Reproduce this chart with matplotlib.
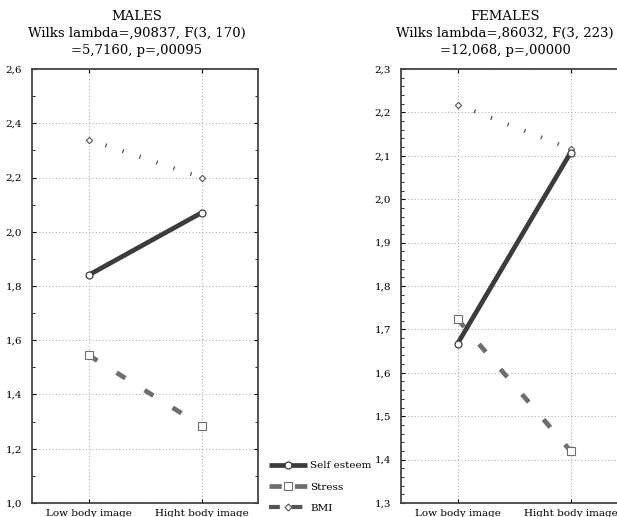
import matplotlib
matplotlib.use('Agg')
from matplotlib import pyplot as plt
from matplotlib.lines import Line2D
from matplotlib.ticker import FuncFormatter, MultipleLocator

plt.rcParams['font.family'] = 'DejaVu Serif'

# data
groups = ['Low body image', 'Hight body image']
series = ['Self esteem', 'Stress', 'BMI']

males_self = [1.84, 2.07]
males_stress = [1.545, 1.285]
males_bmi = [2.34, 2.20]

females_self = [1.667, 2.107]
females_stress = [1.724, 1.42]
females_bmi = [2.218, 2.116]

males_title = 'MALES\nWilks lambda=,90837, F(3, 170)\n=5,7160, p=,00095'
females_title = 'FEMALES\nWilks lambda=,86032, F(3, 223)\n=12,068, p=,00000'

fig = plt.figure(figsize=(6.17, 5.17), dpi=100)

comma = FuncFormatter(lambda v, p: ('%.1f' % v).replace('.', ','))

self_style = dict(color='#3c3c3c', lw=3.4, solid_capstyle='butt', marker='o', ms=5,
                  mfc='white', mec='#3c3c3c', mew=0.9)
stress_style = dict(color='#6e6e6e', lw=3.4, dashes=(2.2, 4.8), marker='s', ms=5.5,
                    mfc='white', mec='#6e6e6e', mew=0.8)
bmi_style = dict(color='#555555', lw=3.0, dashes=(0.3, 4.0), marker='D', ms=3.2,
                 mfc='white', mec='#555555', mew=0.8)


def panel(ax, self_vals, stress_vals, bmi_vals, ylim, major, minor):
    x = range(len(groups))
    ax.plot(x, self_vals, zorder=4, **self_style)
    ax.plot(x, stress_vals, zorder=3, **stress_style)
    ax.plot(x, bmi_vals, zorder=3, **bmi_style)
    ax.set_xlim(-0.5, 1.5)
    ax.set_ylim(*ylim)
    ax.set_xticks(list(x))
    ax.set_xticklabels(groups, fontsize=7.5)
    ax.yaxis.set_major_locator(MultipleLocator(major))
    ax.yaxis.set_minor_locator(MultipleLocator(minor))
    ax.yaxis.set_major_formatter(comma)
    ax.tick_params(axis='y', which='both', direction='in', left=True, right=True,
                   labelsize=7.5, pad=7)
    ax.tick_params(axis='y', which='major', length=3)
    ax.tick_params(axis='y', which='minor', length=2)
    ax.tick_params(axis='x', direction='in', top=True, bottom=True, length=3, pad=4)
    ax.grid(True, which='major', ls=(0, (1, 2)), color='#b0b0b0', lw=0.8)
    for s in ax.spines.values():
        s.set_color('#444444')
        s.set_linewidth(1.3)


ax1 = fig.add_axes([32 / 617, 1 - 503 / 517, 226 / 617, 434 / 517])
panel(ax1, males_self, males_stress, males_bmi, (1.0, 2.6), 0.2, 0.1)

ax2 = fig.add_axes([401 / 617, 1 - 503 / 517, 226 / 617, 434 / 517])
panel(ax2, females_self, females_stress, females_bmi, (1.3, 2.3), 0.1, 0.02)

fig.text(137 / 617, 1 - 10 / 517, males_title, ha='center', va='top',
         fontsize=9.5, linespacing=1.42)
fig.text(505 / 617, 1 - 10 / 517, females_title, ha='center', va='top',
         fontsize=9.5, linespacing=1.42)

# legend proxies, drawn the way the reference key shows them
leg_bmi = dict(bmi_style, dashes=(2.4, 3.2), ms=3.5)
handles = [Line2D([], [], **self_style),
           Line2D([], [], **stress_style),
           Line2D([], [], **leg_bmi)]
for h in handles[1:]:
    h.set_dashes((2.6, 2.8))
fig.legend(handles=handles, labels=series, loc='upper left',
           bbox_to_anchor=(265 / 617, 1 - 457 / 517),
           frameon=False, fontsize=7.5, handlelength=3.6, labelspacing=1.15,
           handletextpad=0.35, borderaxespad=0)

plt.savefig('out.png', dpi=100)
